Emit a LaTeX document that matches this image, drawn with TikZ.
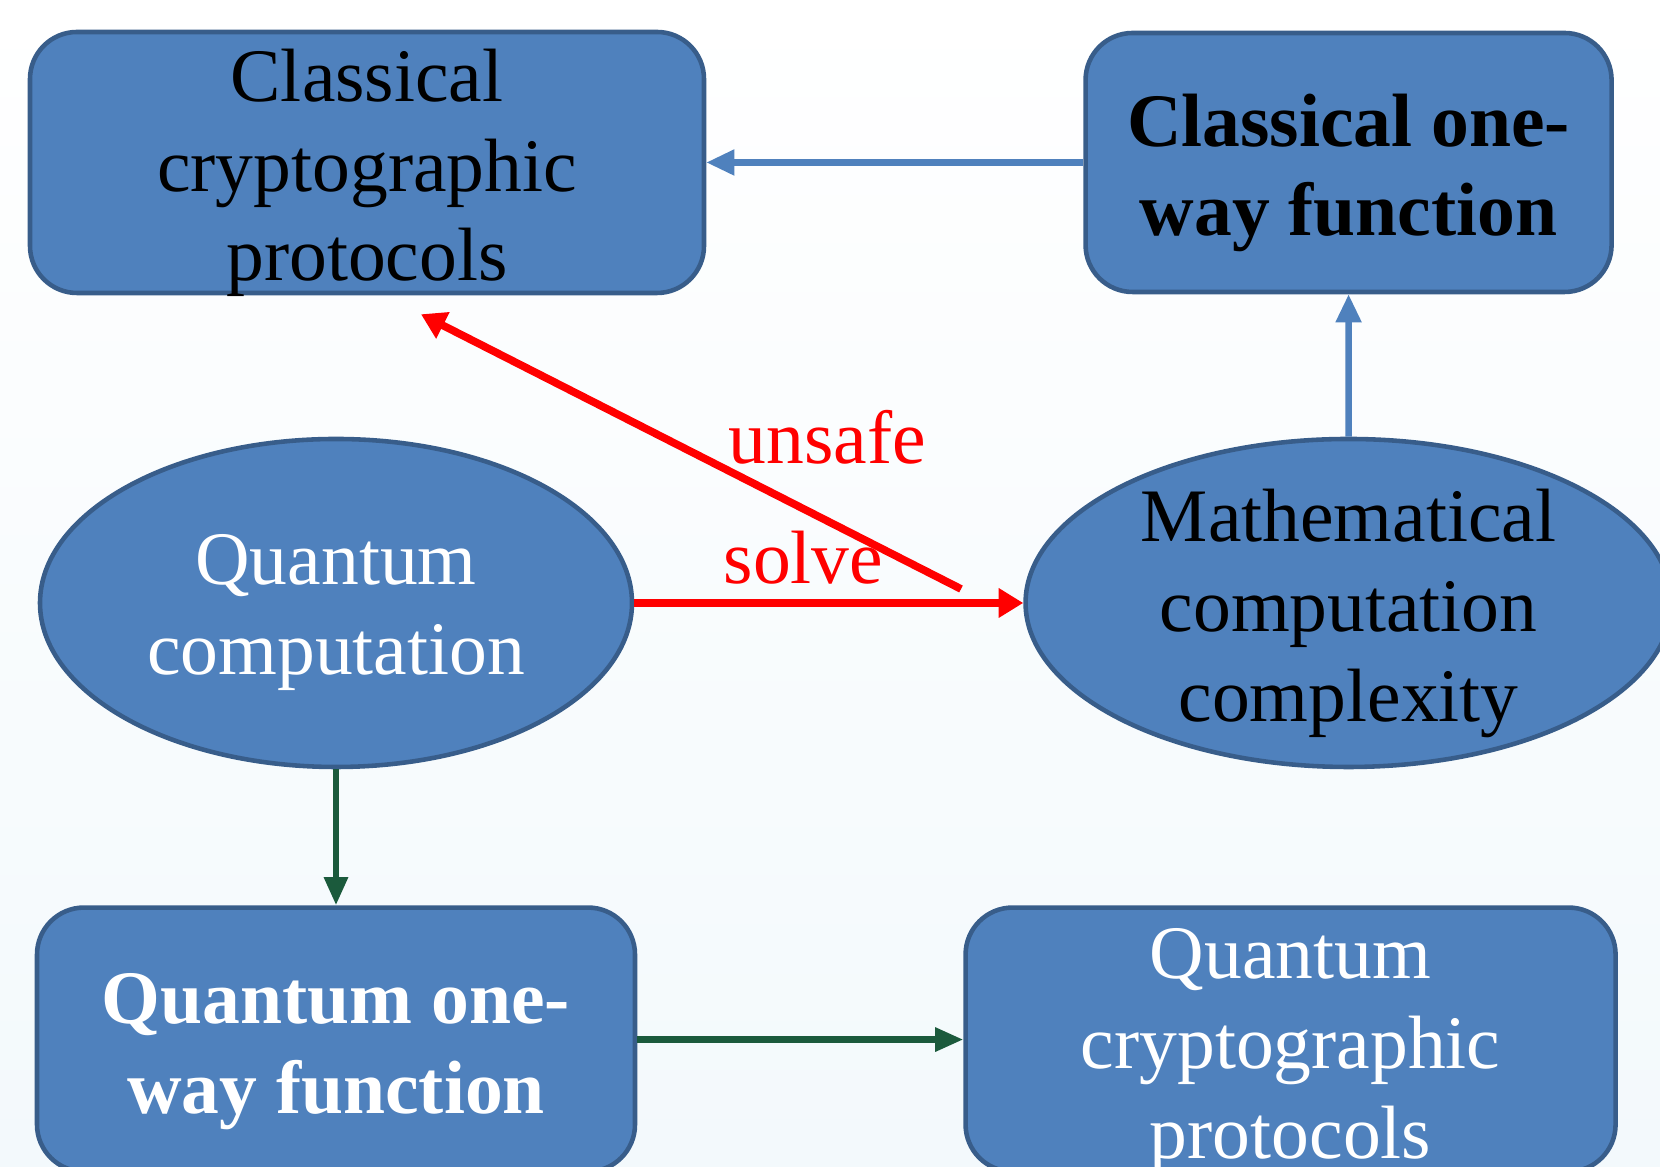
\documentclass[tikz,border=0pt]{standalone}
\usepackage{fontspec}
\setmainfont{Liberation Serif}
\usepackage{tikz}
\usetikzlibrary{positioning,arrows.meta,shapes.geometric}
\definecolor{boxfill}{HTML}{4F81BD}
\definecolor{boxline}{HTML}{385D8A}
\definecolor{owgreen}{HTML}{1B5A3C}
\definecolor{bgblue}{HTML}{F3F9FC}
\newcommand{\bigtxt}{\fontsize{21.5}{25.6}\selectfont}

\begin{document}
\begin{tikzpicture}[>=Stealth, node distance=3cm,
    box/.style={draw=boxline, line width=1.3pt, rounded corners=0.47cm,
      fill=boxfill, inner sep=0pt, align=center, font=\bigtxt},
    threelines/.style={text height=2.37cm, text depth=0pt},
    twolines/.style={text height=1.47cm, text depth=0pt},
    oval/.style={draw=boxline, line width=1.3pt, ellipse, fill=boxfill,
      inner sep=0pt, minimum height=3.28cm},
    txt/.style={align=center, font=\bigtxt, inner sep=0pt, yshift=-0.1cm},
    boldtxt/.style={font=\bigtxt\bfseries},
    bluearrow/.style={-{Triangle[length=8pt,width=7pt]}, line width=1.8pt, draw=boxfill},
    redarrow/.style={-{Triangle[length=7pt,width=8pt]}, line width=2.2pt, draw=red},
    greenarrow/.style={-{Triangle[length=8pt,width=6.5pt]}, line width=1.8pt, draw=owgreen}]

  % Page and background
  \useasboundingbox (0,0) rectangle (16.6,11.67);
  \clip (0,0) rectangle (16.6,11.67);
  \shade[top color=white, bottom color=bgblue] (0,0) rectangle (16.6,11.67);

  % Top row: classical side
  \node[box, threelines, minimum width=6.74cm, minimum height=2.61cm] (cproto)
    at (3.67,10.045) {Classical\\cryptographic\\protocols};
  \node[box, boldtxt, twolines, minimum width=5.26cm, minimum height=2.59cm,
        right=3.77cm of cproto] (cowf) {Classical one-\\way function};

  % Middle row: the two ovals
  \node[oval, minimum width=5.92cm,
        label={[txt, text=white]center:{Quantum\\computation}}] (qcomp)
    at (3.36,5.64) {};
  \node[oval, minimum width=6.46cm, right=3.89cm of qcomp,
        label={[txt]center:{Mathematical\\computation\\complexity}}] (mathcc) {};

  % Bottom row: quantum side
  \node[box, boldtxt, twolines, text=white, minimum width=5.98cm, minimum height=2.64cm,
        below=1.36cm of qcomp] (qowf) {Quantum one-\\way function};
  \node[box, threelines, text=white, minimum width=6.5cm, minimum height=2.64cm,
        right=3.26cm of qowf] (qproto) {Quantum\\cryptographic\\protocols};

  % Arrows
  \coordinate (unsafe-tail) at (9.61,5.78);
  \coordinate (unsafe-head) at ([xshift=0.54cm,yshift=-0.19cm]cproto.south);
  \draw[bluearrow] (cowf) -- (cproto);
  \draw[bluearrow] (mathcc) -- (cowf);
  \draw[redarrow] (qcomp) --
    node[pos=0.435, above=0.15cm, inner sep=0pt, font=\bigtxt, text=red] (solve-lbl) {solve}
    (mathcc);
  \draw[redarrow] (unsafe-tail) --
    node[pos=0.437, anchor=base west, inner sep=0pt, yshift=0.05cm, font=\bigtxt, text=red] (unsafe-lbl) {unsafe}
    (unsafe-head);
  \draw[greenarrow] (qcomp) -- (qowf);
  \draw[greenarrow] (qowf) -- (qproto);
\end{tikzpicture}
\end{document}
